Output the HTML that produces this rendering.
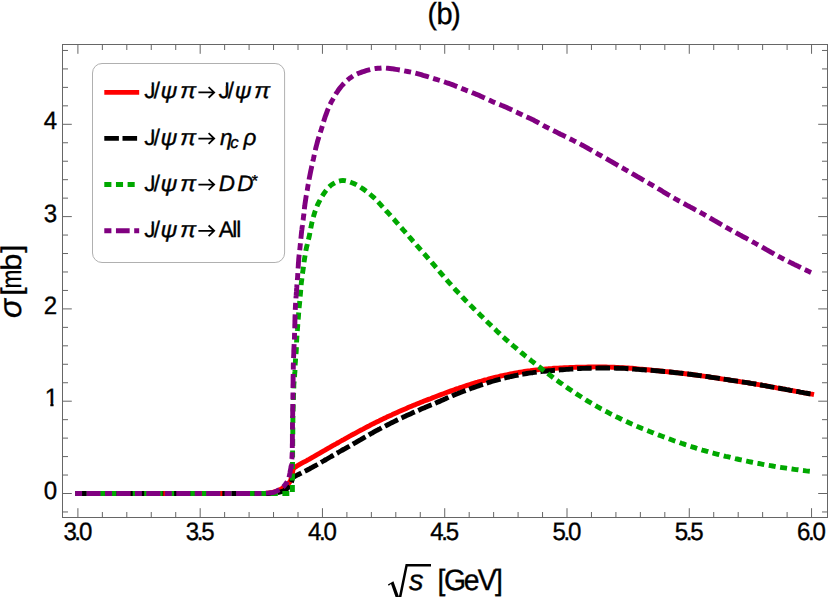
<!DOCTYPE html>
<html><head><meta charset="utf-8"><title>(b)</title>
<style>
html,body{margin:0;padding:0;background:#fff;}
body{width:830px;height:597px;overflow:hidden;font-family:"Liberation Sans",sans-serif;}
svg{display:block;font-family:"Liberation Sans",sans-serif;text-rendering:geometricPrecision;}
svg text{white-space:pre;}
</style></head><body>
<svg width="830" height="597" viewBox="0 0 830 597">
<rect width="830" height="597" fill="#fff"/>
<defs><clipPath id="c0"><polygon points="-1.18,-2.95 5.52,-2.95 5.52,1.23 8.70,1.23 8.70,-2.95 15.28,-2.95 15.28,-19.69 -1.18,-19.69"/></clipPath><clipPath id="c1"><polygon points="-1.09,1.09 12.03,1.09 12.03,-16.41 7.33,-16.41 7.33,-12.03 -1.09,-12.03"/></clipPath><clipPath id="c2"><polygon points="-2.27,5.47 19.34,5.47 19.34,-12.09 -2.27,-12.09"/></clipPath><clipPath id="c3"><polygon points="-1.09,1.09 12.03,1.09 12.03,-16.41 7.33,-16.41 7.33,-12.03 -1.09,-12.03"/></clipPath><clipPath id="c4"><polygon points="-2.27,5.47 19.34,5.47 19.34,-12.09 -2.27,-12.09"/></clipPath><clipPath id="c5"><polygon points="-1.09,1.09 12.03,1.09 12.03,-16.41 7.33,-16.41 7.33,-12.03 -1.09,-12.03"/></clipPath><clipPath id="c6"><polygon points="-2.27,5.47 19.34,5.47 19.34,-12.09 -2.27,-12.09"/></clipPath><clipPath id="c7"><polygon points="-1.09,1.09 12.03,1.09 12.03,-16.41 7.33,-16.41 7.33,-12.03 -1.09,-12.03"/></clipPath><clipPath id="c8"><polygon points="-2.27,5.47 19.34,5.47 19.34,-12.09 -2.27,-12.09"/></clipPath><clipPath id="c9"><polygon points="-1.09,1.09 12.03,1.09 12.03,-16.41 7.33,-16.41 7.33,-12.03 -1.09,-12.03"/></clipPath><clipPath id="c10"><polygon points="-2.27,5.47 19.34,5.47 19.34,-12.09 -2.27,-12.09"/></clipPath></defs>
<rect x="62.5" y="44.5" width="765.0" height="473.0" fill="none" stroke="#666666" stroke-width="1"/>
<path d="M77.90,517.5v-9.3M77.90,44.5v9.3M102.36,517.5v-5.5M102.36,44.5v5.5M126.81,517.5v-5.5M126.81,44.5v5.5M151.26,517.5v-5.5M151.26,44.5v5.5M175.72,517.5v-5.5M175.72,44.5v5.5M200.18,517.5v-9.3M200.18,44.5v9.3M224.63,517.5v-5.5M224.63,44.5v5.5M249.09,517.5v-5.5M249.09,44.5v5.5M273.54,517.5v-5.5M273.54,44.5v5.5M298.00,517.5v-5.5M298.00,44.5v5.5M322.45,517.5v-9.3M322.45,44.5v9.3M346.90,517.5v-5.5M346.90,44.5v5.5M371.36,517.5v-5.5M371.36,44.5v5.5M395.81,517.5v-5.5M395.81,44.5v5.5M420.27,517.5v-5.5M420.27,44.5v5.5M444.73,517.5v-9.3M444.73,44.5v9.3M469.18,517.5v-5.5M469.18,44.5v5.5M493.64,517.5v-5.5M493.64,44.5v5.5M518.09,517.5v-5.5M518.09,44.5v5.5M542.55,517.5v-5.5M542.55,44.5v5.5M567.00,517.5v-9.3M567.00,44.5v9.3M591.45,517.5v-5.5M591.45,44.5v5.5M615.91,517.5v-5.5M615.91,44.5v5.5M640.37,517.5v-5.5M640.37,44.5v5.5M664.82,517.5v-5.5M664.82,44.5v5.5M689.27,517.5v-9.3M689.27,44.5v9.3M713.73,517.5v-5.5M713.73,44.5v5.5M738.19,517.5v-5.5M738.19,44.5v5.5M762.64,517.5v-5.5M762.64,44.5v5.5M787.10,517.5v-5.5M787.10,44.5v5.5M811.55,517.5v-9.3M811.55,44.5v9.3M62.5,511.96h5.5M827.5,511.96h-5.5M62.5,493.50h9.3M827.5,493.50h-9.3M62.5,475.04h5.5M827.5,475.04h-5.5M62.5,456.58h5.5M827.5,456.58h-5.5M62.5,438.12h5.5M827.5,438.12h-5.5M62.5,419.66h5.5M827.5,419.66h-5.5M62.5,401.20h9.3M827.5,401.20h-9.3M62.5,382.74h5.5M827.5,382.74h-5.5M62.5,364.28h5.5M827.5,364.28h-5.5M62.5,345.82h5.5M827.5,345.82h-5.5M62.5,327.36h5.5M827.5,327.36h-5.5M62.5,308.90h9.3M827.5,308.90h-9.3M62.5,290.44h5.5M827.5,290.44h-5.5M62.5,271.98h5.5M827.5,271.98h-5.5M62.5,253.52h5.5M827.5,253.52h-5.5M62.5,235.06h5.5M827.5,235.06h-5.5M62.5,216.60h9.3M827.5,216.60h-9.3M62.5,198.14h5.5M827.5,198.14h-5.5M62.5,179.68h5.5M827.5,179.68h-5.5M62.5,161.22h5.5M827.5,161.22h-5.5M62.5,142.76h5.5M827.5,142.76h-5.5M62.5,124.30h9.3M827.5,124.30h-9.3M62.5,105.84h5.5M827.5,105.84h-5.5M62.5,87.38h5.5M827.5,87.38h-5.5M62.5,68.92h5.5M827.5,68.92h-5.5M62.5,50.46h5.5M827.5,50.46h-5.5" fill="none" stroke="#666666" stroke-width="1"/>
<g stroke-linecap="butt">
<path d="M75.1,493.5 L77.1,493.5 L79.1,493.5 L81.1,493.5 L83.1,493.5 L85.1,493.5 L87.1,493.5 L89.1,493.5 L91.1,493.5 L93.1,493.5 L95.1,493.5 L97.1,493.5 L99.1,493.5 L101.1,493.5 L103.1,493.5 L105.1,493.5 L107.1,493.5 L109.1,493.5 L111.1,493.5 L113.1,493.5 L115.1,493.5 L117.1,493.5 L119.1,493.5 L121.1,493.5 L123.1,493.5 L125.1,493.5 L127.1,493.5 L129.1,493.5 L131.1,493.5 L133.1,493.5 L135.1,493.5 L137.1,493.5 L139.1,493.5 L141.1,493.5 L143.1,493.5 L145.1,493.5 L147.1,493.5 L149.1,493.5 L151.1,493.5 L153.1,493.5 L155.1,493.5 L157.1,493.5 L159.1,493.5 L161.1,493.5 L163.1,493.5 L165.1,493.5 L167.1,493.5 L169.1,493.5 L171.1,493.5 L173.1,493.5 L175.1,493.5 L177.1,493.5 L179.1,493.5 L181.1,493.5 L183.1,493.5 L185.1,493.5 L187.1,493.5 L189.1,493.5 L191.1,493.5 L193.1,493.5 L195.1,493.5 L197.1,493.5 L199.1,493.5 L201.1,493.5 L203.1,493.5 L205.0,493.5 L207.0,493.5 L209.0,493.5 L211.0,493.5 L213.0,493.5 L215.0,493.5 L217.0,493.5 L219.0,493.5 L221.0,493.5 L223.0,493.5 L225.0,493.5 L227.0,493.5 L229.0,493.5 L231.0,493.5 L233.0,493.5 L235.0,493.5 L237.0,493.5 L239.0,493.5 L241.0,493.5 L243.0,493.5 L245.0,493.5 L247.0,493.5 L249.0,493.5 L251.0,493.5 L253.0,493.5 L255.0,493.5 L257.0,493.5 L259.0,493.5 L261.0,493.5 L263.0,493.5 L265.0,493.4 L267.0,493.2 L269.0,493.0 L271.0,492.8 L272.9,492.3 L274.9,491.7 L276.8,491.0 L278.6,490.3 L280.4,489.4 L282.2,488.4 L283.9,487.3 L285.4,486.2 L287.1,484.9 L288.6,483.4 L289.8,481.9 L290.6,480.2 L291.3,478.4 L291.8,476.4 L292.3,474.4 L292.6,472.3 L292.9,470.2 L293.4,468.5 L295.1,467.3 L296.7,466.2 L298.4,465.2 L300.1,464.2 L301.9,463.2 L303.7,462.2 L305.4,461.3 L307.2,460.3 L309.0,459.4 L310.7,458.4 L312.4,457.4 L314.2,456.4 L315.9,455.4 L317.6,454.4 L319.4,453.4 L321.1,452.4 L322.8,451.4 L324.6,450.4 L326.3,449.4 L328.0,448.4 L329.8,447.4 L331.5,446.4 L333.2,445.4 L335.0,444.5 L336.7,443.5 L338.5,442.5 L340.2,441.5 L341.9,440.5 L343.7,439.6 L345.4,438.6 L347.2,437.6 L348.9,436.7 L350.7,435.7 L352.4,434.7 L354.2,433.8 L356.0,432.8 L357.7,431.9 L359.5,430.9 L361.2,430.0 L363.0,429.1 L364.8,428.1 L366.5,427.2 L368.3,426.3 L370.1,425.3 L371.9,424.4 L373.7,423.5 L375.4,422.6 L377.2,421.7 L379.0,420.9 L380.8,420.0 L382.6,419.1 L384.4,418.2 L386.2,417.4 L388.0,416.5 L389.9,415.7 L391.7,414.9 L393.5,414.0 L395.3,413.2 L397.1,412.4 L399.0,411.6 L400.8,410.8 L402.6,410.0 L404.5,409.2 L406.3,408.4 L408.1,407.6 L410.0,406.8 L411.8,406.1 L413.7,405.3 L415.5,404.6 L417.4,403.8 L419.2,403.1 L421.1,402.3 L422.9,401.6 L424.8,400.8 L426.7,400.1 L428.5,399.4 L430.4,398.7 L432.3,397.9 L434.1,397.2 L436.0,396.5 L437.9,395.8 L439.7,395.1 L441.6,394.4 L443.5,393.7 L445.3,393.0 L447.2,392.3 L449.1,391.6 L451.0,390.9 L452.9,390.2 L454.7,389.6 L456.6,388.9 L458.5,388.3 L460.4,387.6 L462.3,387.0 L464.2,386.4 L466.1,385.7 L468.0,385.1 L469.9,384.5 L471.8,383.9 L473.7,383.3 L475.7,382.7 L477.6,382.2 L479.5,381.6 L481.4,381.1 L483.3,380.5 L485.3,380.0 L487.2,379.5 L489.1,378.9 L491.1,378.4 L493.0,377.9 L494.9,377.4 L496.9,377.0 L498.8,376.5 L500.8,376.0 L502.7,375.6 L504.7,375.2 L506.6,374.8 L508.6,374.4 L510.5,374.0 L512.5,373.6 L514.5,373.2 L516.4,372.8 L518.4,372.5 L520.4,372.1 L522.4,371.8 L524.3,371.5 L526.3,371.2 L528.3,370.9 L530.3,370.7 L532.2,370.4 L534.2,370.1 L536.2,369.9 L538.2,369.7 L540.2,369.4 L542.2,369.2 L544.2,369.1 L546.2,368.9 L548.1,368.8 L550.1,368.6 L552.1,368.5 L554.1,368.3 L556.1,368.2 L558.1,368.1 L560.1,368.0 L562.1,367.9 L564.1,367.8 L566.1,367.7 L568.1,367.6 L570.1,367.5 L572.1,367.4 L574.1,367.4 L576.1,367.3 L578.1,367.3 L580.1,367.2 L582.1,367.2 L584.1,367.1 L586.1,367.1 L588.1,367.0 L590.1,367.0 L592.1,367.0 L594.1,366.9 L596.1,366.9 L598.1,366.9 L600.1,366.9 L602.1,366.9 L604.1,367.0 L606.1,367.0 L608.1,367.1 L610.1,367.1 L612.1,367.2 L614.1,367.3 L616.1,367.4 L618.1,367.5 L620.1,367.6 L622.1,367.7 L624.1,367.8 L626.1,367.9 L628.1,368.0 L630.0,368.2 L632.0,368.3 L634.0,368.5 L636.0,368.7 L638.0,368.9 L640.0,369.1 L642.0,369.3 L644.0,369.5 L646.0,369.7 L648.0,369.8 L650.0,370.0 L651.9,370.2 L653.9,370.4 L655.9,370.6 L657.9,370.8 L659.9,371.0 L661.9,371.2 L663.9,371.4 L665.9,371.6 L667.9,371.8 L669.9,372.0 L671.8,372.2 L673.8,372.4 L675.8,372.6 L677.8,372.8 L679.8,373.1 L681.8,373.3 L683.8,373.5 L685.7,373.8 L687.7,374.0 L689.7,374.3 L691.7,374.5 L693.7,374.8 L695.7,375.0 L697.6,375.3 L699.6,375.6 L701.6,375.8 L703.6,376.1 L705.6,376.4 L707.5,376.7 L709.5,377.0 L711.5,377.3 L713.5,377.6 L715.5,377.9 L717.4,378.2 L719.4,378.5 L721.4,378.8 L723.4,379.1 L725.3,379.4 L727.3,379.7 L729.3,380.0 L731.3,380.3 L733.2,380.6 L735.2,380.9 L737.2,381.2 L739.2,381.5 L741.2,381.8 L743.1,382.1 L745.1,382.4 L747.1,382.7 L749.1,383.0 L751.0,383.3 L753.0,383.7 L755.0,384.0 L756.9,384.3 L758.9,384.7 L760.9,385.0 L762.8,385.4 L764.8,385.7 L766.8,386.0 L768.8,386.4 L770.7,386.7 L772.7,387.1 L774.7,387.4 L776.6,387.8 L778.6,388.1 L780.6,388.5 L782.5,388.8 L784.5,389.2 L786.5,389.6 L788.4,389.9 L790.4,390.3 L792.4,390.6 L794.3,391.0 L796.3,391.3 L798.3,391.7 L800.2,392.1 L802.2,392.4 L804.2,392.8 L806.1,393.1 L808.1,393.5 L810.1,393.9 L812.0,394.2 L814.0,394.6" fill="none" stroke="#ff0000" stroke-width="4.9" stroke-linejoin="round"/>
<path d="M75.1,493.5 L77.1,493.5 L79.1,493.5 L81.1,493.5 L83.1,493.5 L85.1,493.5 L87.1,493.5 L89.1,493.5 L91.1,493.5 L93.1,493.5 L95.1,493.5 L97.1,493.5 L99.0,493.5 L101.0,493.5 L103.0,493.5 L105.0,493.5 L107.0,493.5 L109.0,493.5 L111.0,493.5 L113.0,493.5 L115.0,493.5 L117.0,493.5 L119.0,493.5 L121.0,493.5 L123.0,493.5 L125.0,493.5 L127.0,493.5 L129.0,493.5 L131.0,493.5 L133.0,493.5 L135.0,493.5 L137.0,493.5 L139.0,493.5 L141.0,493.5 L143.0,493.5 L144.9,493.5 L146.9,493.5 L148.9,493.5 L150.9,493.5 L152.9,493.5 L154.9,493.5 L156.9,493.5 L158.9,493.5 L160.9,493.5 L162.9,493.5 L164.9,493.5 L166.9,493.5 L168.9,493.5 L170.9,493.5 L172.9,493.5 L174.9,493.5 L176.9,493.5 L178.9,493.5 L180.9,493.5 L182.9,493.5 L184.9,493.5 L186.9,493.5 L188.9,493.5 L190.8,493.5 L192.8,493.5 L194.8,493.5 L196.8,493.5 L198.8,493.5 L200.8,493.5 L202.8,493.5 L204.8,493.5 L206.8,493.5 L208.8,493.5 L210.8,493.5 L212.8,493.5 L214.8,493.5 L216.8,493.5 L218.8,493.5 L220.8,493.5 L222.8,493.5 L224.8,493.5 L226.8,493.5 L228.8,493.5 L230.8,493.5 L232.8,493.5 L234.8,493.5 L236.8,493.5 L238.7,493.5 L240.7,493.5 L242.7,493.5 L244.7,493.5 L246.7,493.5 L248.7,493.5 L250.7,493.5 L252.7,493.5 L254.7,493.5 L256.7,493.5 L258.7,493.5 L260.7,493.5 L262.7,493.5 L264.7,493.5 L266.7,493.5 L268.7,493.5 L270.7,493.4 L272.7,493.2 L274.7,493.0 L276.6,492.7 L278.6,492.4 L280.6,491.9 L282.5,491.4 L284.3,490.6 L286.0,489.5 L287.6,488.2 L288.9,486.8 L290.0,485.2 L290.9,483.3 L291.7,481.4 L292.1,479.4 L292.7,477.7 L294.5,476.6 L296.2,475.7 L298.0,474.7 L299.8,473.8 L301.5,472.9 L303.3,472.0 L305.1,471.1 L306.9,470.2 L308.7,469.3 L310.4,468.3 L312.2,467.4 L313.9,466.4 L315.7,465.5 L317.4,464.5 L319.1,463.5 L320.9,462.5 L322.6,461.5 L324.3,460.5 L326.1,459.5 L327.8,458.5 L329.5,457.5 L331.2,456.5 L333.0,455.5 L334.7,454.5 L336.4,453.5 L338.2,452.5 L339.9,451.5 L341.6,450.5 L343.4,449.5 L345.1,448.6 L346.8,447.6 L348.6,446.6 L350.3,445.6 L352.0,444.6 L353.7,443.6 L355.5,442.6 L357.2,441.6 L358.9,440.6 L360.7,439.6 L362.4,438.6 L364.1,437.6 L365.9,436.6 L367.6,435.6 L369.3,434.6 L371.0,433.6 L372.8,432.7 L374.5,431.7 L376.3,430.7 L378.0,429.8 L379.8,428.9 L381.6,427.9 L383.3,427.0 L385.1,426.1 L386.9,425.2 L388.7,424.3 L390.4,423.4 L392.2,422.5 L394.0,421.6 L395.8,420.7 L397.6,419.8 L399.4,419.0 L401.2,418.1 L403.0,417.3 L404.8,416.4 L406.6,415.6 L408.5,414.8 L410.3,414.0 L412.1,413.1 L413.9,412.3 L415.7,411.5 L417.6,410.7 L419.4,409.9 L421.2,409.1 L423.1,408.3 L424.9,407.6 L426.7,406.8 L428.6,406.0 L430.4,405.2 L432.3,404.5 L434.1,403.7 L435.9,402.9 L437.8,402.1 L439.6,401.4 L441.4,400.6 L443.3,399.8 L445.1,398.9 L446.9,398.1 L448.7,397.3 L450.6,396.5 L452.4,395.7 L454.2,394.9 L456.1,394.2 L457.9,393.5 L459.8,392.7 L461.7,392.0 L463.5,391.3 L465.4,390.6 L467.3,389.9 L469.1,389.2 L471.0,388.5 L472.9,387.8 L474.8,387.2 L476.7,386.5 L478.5,385.9 L480.4,385.2 L482.3,384.6 L484.2,384.0 L486.1,383.4 L488.0,382.7 L489.9,382.1 L491.8,381.5 L493.7,381.0 L495.7,380.4 L497.6,379.8 L499.5,379.3 L501.4,378.8 L503.4,378.3 L505.3,377.9 L507.2,377.4 L509.2,377.0 L511.1,376.5 L513.1,376.1 L515.0,375.7 L517.0,375.3 L519.0,374.9 L520.9,374.5 L522.9,374.2 L524.9,373.8 L526.8,373.5 L528.8,373.2 L530.8,372.9 L532.7,372.7 L534.7,372.4 L536.7,372.1 L538.7,371.9 L540.7,371.7 L542.7,371.4 L544.6,371.2 L546.6,371.0 L548.6,370.8 L550.6,370.7 L552.6,370.5 L554.6,370.3 L556.6,370.2 L558.6,370.0 L560.5,369.8 L562.5,369.7 L564.5,369.6 L566.5,369.4 L568.5,369.3 L570.5,369.1 L572.5,369.0 L574.5,368.9 L576.5,368.7 L578.5,368.6 L580.5,368.5 L582.5,368.4 L584.4,368.4 L586.4,368.3 L588.4,368.3 L590.4,368.2 L592.4,368.1 L594.4,368.1 L596.4,368.1 L598.4,368.0 L600.4,368.0 L602.4,368.0 L604.4,368.0 L606.4,368.0 L608.4,368.0 L610.4,368.1 L612.4,368.1 L614.4,368.1 L616.4,368.2 L618.4,368.2 L620.4,368.3 L622.4,368.3 L624.4,368.4 L626.3,368.5 L628.3,368.7 L630.3,368.8 L632.3,369.0 L634.3,369.1 L636.3,369.3 L638.3,369.4 L640.3,369.6 L642.3,369.7 L644.3,369.8 L646.3,370.0 L648.2,370.1 L650.2,370.3 L652.2,370.4 L654.2,370.6 L656.2,370.7 L658.2,370.9 L660.2,371.1 L662.2,371.3 L664.2,371.5 L666.1,371.6 L668.1,371.8 L670.1,372.0 L672.1,372.2 L674.1,372.5 L676.1,372.7 L678.1,372.9 L680.0,373.1 L682.0,373.3 L684.0,373.6 L686.0,373.8 L688.0,374.0 L689.9,374.3 L691.9,374.5 L693.9,374.8 L695.9,375.1 L697.9,375.3 L699.8,375.6 L701.8,375.9 L703.8,376.1 L705.8,376.4 L707.7,376.7 L709.7,377.0 L711.7,377.3 L713.7,377.6 L715.6,377.9 L717.6,378.2 L719.6,378.5 L721.5,378.8 L723.5,379.1 L725.5,379.4 L727.5,379.7 L729.4,380.0 L731.4,380.3 L733.4,380.6 L735.4,380.9 L737.3,381.2 L739.3,381.5 L741.3,381.8 L743.3,382.1 L745.2,382.4 L747.2,382.7 L749.2,383.0 L751.1,383.4 L753.1,383.7 L755.1,384.0 L757.0,384.4 L759.0,384.7 L761.0,385.0 L762.9,385.4 L764.9,385.7 L766.9,386.1 L768.8,386.4 L770.8,386.8 L772.8,387.1 L774.7,387.4 L776.7,387.8 L778.7,388.1 L780.6,388.5 L782.6,388.9 L784.6,389.2 L786.5,389.6 L788.5,389.9 L790.4,390.3 L792.4,390.6 L794.4,391.0 L796.3,391.3 L798.3,391.7 L800.3,392.1 L802.2,392.4 L804.2,392.8 L806.2,393.1 L808.1,393.5 L810.1,393.9 L812.0,394.2 L814.0,394.6" fill="none" stroke="#000000" stroke-width="4.9" stroke-dasharray="14.581 3.821" stroke-linejoin="round"/>
<path d="M75.1,493.5 L292.4,493.5 L292.4,491.5 L292.4,489.5 L292.4,487.5 L292.4,485.5 L292.4,483.5 L292.4,481.5 L292.5,479.5 L292.5,477.5 L292.5,475.5 L292.5,473.5 L292.5,471.5 L292.5,469.5 L292.5,467.5 L292.5,465.5 L292.5,463.5 L292.5,461.5 L292.6,459.5 L292.6,457.6 L292.6,455.6 L292.6,453.6 L292.6,451.6 L292.6,449.6 L292.6,447.6 L292.7,445.6 L292.7,443.6 L292.7,441.6 L292.7,439.6 L292.7,437.6 L292.7,435.6 L292.8,433.6 L292.8,431.6 L292.8,429.6 L292.8,427.6 L292.8,425.6 L292.9,423.6 L292.9,421.6 L292.9,419.6 L292.9,417.6 L293.0,415.6 L293.0,413.6 L293.1,411.6 L293.1,409.6 L293.2,407.6 L293.2,405.6 L293.3,403.6 L293.4,401.6 L293.4,399.6 L293.5,397.6 L293.5,395.6 L293.6,393.6 L293.6,391.7 L293.7,389.7 L293.8,387.7 L293.8,385.7 L293.9,383.7 L294.1,381.7 L294.2,379.7 L294.4,377.7 L294.6,375.7 L294.7,373.7 L294.9,371.7 L295.0,369.7 L295.1,367.7 L295.1,365.7 L295.2,363.7 L295.4,361.8 L295.5,359.8 L295.7,357.8 L295.8,355.8 L296.0,353.8 L296.2,351.8 L296.3,349.8 L296.4,347.8 L296.5,345.8 L296.6,343.8 L296.6,341.8 L296.7,339.8 L296.8,337.8 L297.0,335.8 L297.1,333.8 L297.2,331.9 L297.4,329.9 L297.5,327.9 L297.7,325.9 L297.8,323.9 L298.0,321.9 L298.1,319.9 L298.3,317.9 L298.5,315.9 L298.6,313.9 L298.8,311.9 L299.0,310.0 L299.1,308.0 L299.3,306.0 L299.5,304.0 L299.7,302.0 L299.9,300.0 L300.0,298.0 L300.2,296.0 L300.4,294.0 L300.6,292.1 L300.7,290.1 L300.9,288.1 L301.1,286.1 L301.2,284.1 L301.4,282.1 L301.7,280.1 L301.9,278.1 L302.2,276.2 L302.4,274.2 L302.7,272.2 L303.0,270.2 L303.3,268.2 L303.5,266.3 L303.8,264.3 L304.0,262.3 L304.3,260.3 L304.6,258.4 L304.9,256.4 L305.3,254.4 L305.6,252.4 L305.9,250.5 L306.3,248.5 L306.7,246.6 L307.2,244.6 L307.6,242.7 L308.1,240.7 L308.6,238.8 L309.1,236.9 L309.5,234.9 L309.9,232.9 L310.2,231.0 L310.6,229.0 L311.0,227.0 L311.4,225.1 L311.8,223.1 L312.3,221.2 L312.8,219.3 L313.3,217.3 L313.8,215.4 L314.4,213.5 L315.0,211.6 L315.7,209.7 L316.4,207.8 L317.1,206.0 L317.9,204.1 L318.8,202.3 L319.7,200.6 L320.6,198.8 L321.6,197.0 L322.7,195.3 L323.8,193.7 L324.9,192.1 L326.1,190.4 L327.4,188.8 L328.8,187.2 L330.2,185.9 L331.7,184.7 L333.4,183.7 L335.2,182.7 L337.0,181.8 L339.0,181.1 L341.0,180.6 L342.9,180.4 L344.8,180.6 L346.8,181.0 L348.7,181.6 L350.6,182.3 L352.5,183.0 L354.4,183.8 L356.1,184.6 L357.9,185.6 L359.6,186.7 L361.3,187.8 L363.0,188.9 L364.6,190.0 L366.2,191.2 L367.8,192.4 L369.4,193.7 L370.9,195.0 L372.4,196.3 L373.9,197.6 L375.3,199.0 L376.7,200.4 L378.1,201.9 L379.4,203.3 L380.8,204.8 L382.1,206.3 L383.5,207.8 L384.8,209.3 L386.1,210.8 L387.5,212.2 L388.8,213.7 L390.2,215.2 L391.5,216.7 L392.9,218.2 L394.2,219.6 L395.5,221.1 L396.8,222.6 L398.2,224.1 L399.5,225.6 L400.8,227.1 L402.1,228.6 L403.4,230.1 L404.8,231.6 L406.1,233.1 L407.4,234.6 L408.7,236.1 L410.0,237.7 L411.3,239.2 L412.6,240.7 L413.9,242.2 L415.2,243.7 L416.5,245.2 L417.9,246.7 L419.2,248.2 L420.5,249.7 L421.8,251.2 L423.1,252.7 L424.5,254.2 L425.8,255.7 L427.1,257.2 L428.4,258.7 L429.7,260.2 L431.1,261.7 L432.4,263.2 L433.7,264.7 L435.0,266.2 L436.3,267.7 L437.6,269.2 L438.9,270.8 L440.2,272.3 L441.5,273.8 L442.8,275.3 L444.1,276.8 L445.4,278.4 L446.7,279.9 L448.0,281.4 L449.3,282.8 L450.7,284.3 L452.0,285.8 L453.3,287.3 L454.7,288.8 L456.0,290.3 L457.4,291.7 L458.7,293.2 L460.1,294.7 L461.5,296.1 L462.8,297.6 L464.2,299.0 L465.6,300.5 L467.0,301.9 L468.4,303.3 L469.8,304.7 L471.2,306.1 L472.7,307.5 L474.1,308.9 L475.5,310.3 L476.9,311.7 L478.4,313.1 L479.8,314.5 L481.2,315.9 L482.7,317.3 L484.1,318.7 L485.5,320.1 L486.9,321.5 L488.4,322.9 L489.8,324.3 L491.2,325.6 L492.7,327.0 L494.1,328.4 L495.6,329.8 L497.0,331.2 L498.5,332.6 L499.9,333.9 L501.4,335.3 L502.8,336.7 L504.3,338.0 L505.8,339.4 L507.3,340.7 L508.8,342.0 L510.3,343.3 L511.8,344.6 L513.3,345.9 L514.9,347.1 L516.4,348.4 L517.9,349.7 L519.5,351.0 L521.0,352.3 L522.5,353.5 L524.1,354.8 L525.6,356.1 L527.2,357.3 L528.7,358.6 L530.3,359.8 L531.8,361.1 L533.4,362.3 L535.0,363.6 L536.5,364.8 L538.1,366.1 L539.7,367.3 L541.2,368.5 L542.8,369.8 L544.4,371.0 L546.0,372.2 L547.6,373.4 L549.2,374.6 L550.8,375.8 L552.4,377.0 L554.0,378.2 L555.6,379.4 L557.2,380.5 L558.8,381.7 L560.5,382.9 L562.1,384.0 L563.7,385.2 L565.4,386.3 L567.0,387.5 L568.6,388.6 L570.3,389.7 L571.9,390.8 L573.6,391.9 L575.3,393.0 L576.9,394.1 L578.6,395.2 L580.3,396.3 L582.0,397.4 L583.7,398.5 L585.3,399.5 L587.0,400.6 L588.7,401.7 L590.5,402.7 L592.2,403.7 L593.9,404.7 L595.6,405.7 L597.3,406.7 L599.1,407.7 L600.8,408.7 L602.6,409.6 L604.3,410.6 L606.1,411.5 L607.9,412.4 L609.6,413.4 L611.4,414.3 L613.2,415.2 L615.0,416.1 L616.8,417.0 L618.6,417.8 L620.4,418.7 L622.2,419.6 L624.0,420.4 L625.8,421.3 L627.6,422.1 L629.4,422.9 L631.2,423.8 L633.1,424.6 L634.9,425.4 L636.7,426.2 L638.6,426.9 L640.4,427.7 L642.2,428.5 L644.1,429.2 L646.0,430.0 L647.8,430.7 L649.7,431.5 L651.5,432.2 L653.4,432.9 L655.2,433.7 L657.1,434.4 L659.0,435.1 L660.8,435.8 L662.7,436.5 L664.6,437.2 L666.4,437.9 L668.3,438.6 L670.2,439.3 L672.1,440.0 L674.0,440.7 L675.8,441.3 L677.7,442.0 L679.6,442.6 L681.5,443.3 L683.4,443.9 L685.3,444.6 L687.2,445.2 L689.1,445.9 L691.0,446.5 L692.9,447.1 L694.8,447.7 L696.7,448.3 L698.6,448.9 L700.5,449.5 L702.4,450.1 L704.3,450.6 L706.2,451.2 L708.1,451.7 L710.1,452.3 L712.0,452.8 L713.9,453.3 L715.9,453.8 L717.8,454.3 L719.7,454.8 L721.7,455.3 L723.6,455.8 L725.5,456.3 L727.5,456.7 L729.4,457.2 L731.4,457.7 L733.3,458.1 L735.3,458.6 L737.2,459.0 L739.2,459.5 L741.1,459.9 L743.1,460.3 L745.0,460.8 L747.0,461.2 L748.9,461.6 L750.9,462.0 L752.8,462.4 L754.8,462.8 L756.7,463.2 L758.7,463.5 L760.7,463.9 L762.6,464.3 L764.6,464.7 L766.6,465.0 L768.5,465.4 L770.5,465.7 L772.5,466.0 L774.4,466.3 L776.4,466.7 L778.4,467.0 L780.4,467.3 L782.3,467.6 L784.3,467.9 L786.3,468.2 L788.3,468.5 L790.2,468.7 L792.2,469.0 L794.2,469.3 L796.2,469.6 L798.1,469.8 L800.1,470.1 L802.1,470.4 L804.1,470.6 L806.1,470.9 L808.0,471.1 L810.0,471.3 L812.0,471.6 L814.0,471.8" fill="none" stroke="#00a800" stroke-width="4.9" stroke-dasharray="6.95 4.565" stroke-linejoin="miter"/>
<path d="M75.1,493.5 L77.1,493.5 L79.1,493.5 L81.1,493.5 L83.1,493.5 L85.1,493.5 L87.1,493.5 L89.1,493.5 L91.1,493.5 L93.1,493.5 L95.1,493.5 L97.1,493.5 L99.1,493.5 L101.1,493.5 L103.1,493.5 L105.1,493.5 L107.1,493.5 L109.0,493.5 L111.0,493.5 L113.0,493.5 L115.0,493.5 L117.0,493.5 L119.0,493.5 L121.0,493.5 L123.0,493.5 L125.0,493.5 L127.0,493.5 L129.0,493.5 L131.0,493.5 L133.0,493.5 L135.0,493.5 L137.0,493.5 L139.0,493.5 L141.0,493.5 L143.0,493.5 L145.0,493.5 L147.0,493.5 L149.0,493.5 L151.0,493.5 L153.0,493.5 L155.0,493.5 L157.0,493.5 L159.0,493.5 L161.0,493.5 L163.0,493.5 L165.0,493.5 L167.0,493.5 L169.0,493.5 L171.0,493.5 L173.0,493.5 L175.0,493.5 L176.9,493.5 L178.9,493.5 L180.9,493.5 L182.9,493.5 L184.9,493.5 L186.9,493.5 L188.9,493.5 L190.9,493.5 L192.9,493.5 L194.9,493.5 L196.9,493.5 L198.9,493.5 L200.9,493.5 L202.9,493.5 L204.9,493.5 L206.9,493.5 L208.9,493.5 L210.9,493.5 L212.9,493.5 L214.9,493.5 L216.9,493.5 L218.9,493.5 L220.9,493.5 L222.9,493.5 L224.9,493.5 L226.9,493.5 L228.9,493.5 L230.9,493.5 L232.9,493.5 L234.9,493.5 L236.9,493.5 L238.9,493.5 L240.9,493.5 L242.9,493.5 L244.8,493.5 L246.8,493.5 L248.8,493.5 L250.8,493.5 L252.8,493.5 L254.8,493.5 L256.8,493.5 L258.8,493.5 L260.8,493.4 L262.8,493.3 L264.8,493.2 L266.8,493.1 L268.8,493.0 L270.8,492.8 L272.8,492.6 L274.6,492.0 L276.5,491.1 L278.3,490.2 L280.1,489.3 L281.7,488.2 L283.3,486.9 L284.6,485.4 L285.8,483.8 L286.9,482.1 L287.9,480.4 L288.6,478.5 L289.2,476.6 L289.6,474.7 L290.0,472.7 L290.3,470.7 L290.7,468.8 L291.1,466.8 L291.4,464.8 L291.6,462.8 L291.7,460.8 L291.9,458.9 L292.0,456.9 L292.1,454.9 L292.2,452.9 L292.2,450.9 L292.3,448.9 L292.3,446.9 L292.3,444.9 L292.4,442.9 L292.4,440.9 L292.4,438.9 L292.4,436.9 L292.4,434.9 L292.4,432.9 L292.5,430.9 L292.5,428.9 L292.5,426.9 L292.5,424.9 L292.5,422.9 L292.6,420.9 L292.6,418.9 L292.6,416.9 L292.7,414.9 L292.7,412.9 L292.7,410.9 L292.7,408.9 L292.8,406.9 L292.8,404.9 L292.8,402.9 L292.8,400.9 L292.9,398.9 L292.9,397.0 L292.9,395.0 L293.0,393.0 L293.0,391.0 L293.0,389.0 L293.0,387.0 L293.0,385.0 L293.1,383.0 L293.1,381.0 L293.1,379.0 L293.1,377.0 L293.2,375.0 L293.2,373.0 L293.2,371.0 L293.3,369.0 L293.3,367.0 L293.3,365.0 L293.4,363.0 L293.5,361.0 L293.5,359.0 L293.6,357.0 L293.7,355.0 L293.8,353.0 L293.8,351.0 L293.9,349.0 L294.0,347.0 L294.1,345.0 L294.2,343.1 L294.3,341.1 L294.4,339.1 L294.5,337.1 L294.5,335.1 L294.6,333.1 L294.7,331.1 L294.7,329.1 L294.8,327.1 L294.8,325.1 L294.9,323.1 L294.9,321.1 L295.0,319.1 L295.0,317.1 L295.1,315.1 L295.2,313.1 L295.2,311.1 L295.3,309.1 L295.4,307.1 L295.5,305.1 L295.6,303.1 L295.7,301.1 L295.9,299.2 L296.0,297.2 L296.2,295.2 L296.3,293.2 L296.5,291.2 L296.6,289.2 L296.8,287.2 L296.9,285.2 L297.1,283.2 L297.3,281.2 L297.4,279.2 L297.6,277.3 L297.7,275.3 L297.8,273.3 L297.9,271.3 L298.0,269.3 L298.2,267.3 L298.3,265.3 L298.4,263.3 L298.6,261.3 L298.7,259.3 L298.9,257.3 L299.1,255.3 L299.4,253.4 L299.6,251.4 L299.8,249.4 L300.0,247.4 L300.2,245.4 L300.4,243.4 L300.6,241.4 L300.8,239.5 L301.0,237.5 L301.2,235.5 L301.4,233.5 L301.6,231.5 L301.9,229.5 L302.1,227.5 L302.4,225.6 L302.6,223.6 L302.9,221.6 L303.2,219.6 L303.4,217.6 L303.7,215.7 L303.9,213.7 L304.1,211.7 L304.3,209.7 L304.5,207.7 L304.8,205.7 L305.0,203.8 L305.3,201.8 L305.6,199.8 L305.9,197.8 L306.2,195.9 L306.6,193.9 L306.9,191.9 L307.3,190.0 L307.6,188.0 L307.9,186.0 L308.3,184.1 L308.6,182.1 L309.0,180.1 L309.3,178.2 L309.7,176.2 L310.1,174.2 L310.5,172.3 L310.9,170.3 L311.3,168.4 L311.7,166.4 L312.2,164.5 L312.6,162.5 L313.0,160.6 L313.5,158.6 L313.9,156.7 L314.3,154.7 L314.8,152.8 L315.2,150.8 L315.6,148.9 L316.1,146.9 L316.6,145.0 L317.1,143.1 L317.6,141.1 L318.2,139.2 L318.8,137.3 L319.4,135.4 L320.0,133.5 L320.6,131.6 L321.2,129.7 L321.8,127.8 L322.4,125.9 L322.9,124.0 L323.5,122.0 L324.1,120.1 L324.7,118.2 L325.3,116.3 L326.0,114.5 L326.7,112.6 L327.4,110.7 L328.1,108.9 L328.9,107.0 L329.7,105.2 L330.6,103.4 L331.5,101.6 L332.5,99.9 L333.5,98.1 L334.5,96.4 L335.5,94.6 L336.5,92.9 L337.6,91.3 L338.7,89.6 L339.9,88.1 L341.2,86.5 L342.5,85.0 L343.9,83.5 L345.3,82.0 L346.8,80.6 L348.3,79.3 L349.8,78.1 L351.5,77.1 L353.1,76.0 L354.9,75.1 L356.7,74.2 L358.6,73.3 L360.5,72.6 L362.3,71.9 L364.2,71.3 L366.1,70.7 L368.0,70.2 L370.0,69.7 L372.0,69.2 L373.9,68.8 L375.9,68.5 L377.9,68.3 L379.9,68.2 L381.9,68.0 L383.9,68.0 L385.9,68.1 L387.9,68.3 L389.8,68.5 L391.8,68.7 L393.8,69.0 L395.8,69.3 L397.8,69.6 L399.7,70.0 L401.7,70.3 L403.7,70.7 L405.6,71.1 L407.6,71.5 L409.5,71.9 L411.5,72.3 L413.4,72.8 L415.4,73.2 L417.3,73.7 L419.2,74.2 L421.2,74.7 L423.1,75.3 L425.0,75.8 L426.9,76.4 L428.8,77.0 L430.7,77.6 L432.6,78.2 L434.5,78.8 L436.4,79.4 L438.3,80.0 L440.3,80.6 L442.2,81.2 L444.1,81.8 L446.0,82.5 L447.8,83.1 L449.7,83.7 L451.6,84.4 L453.5,85.1 L455.3,85.9 L457.2,86.6 L459.0,87.4 L460.9,88.1 L462.7,88.9 L464.6,89.6 L466.4,90.4 L468.3,91.1 L470.2,91.8 L472.0,92.6 L473.9,93.3 L475.7,94.1 L477.6,94.8 L479.4,95.6 L481.2,96.4 L483.0,97.3 L484.8,98.1 L486.6,99.0 L488.5,99.8 L490.3,100.6 L492.1,101.4 L493.9,102.2 L495.8,103.0 L497.6,103.8 L499.5,104.5 L501.3,105.3 L503.2,106.0 L505.0,106.8 L506.8,107.6 L508.7,108.4 L510.5,109.3 L512.3,110.1 L514.1,111.0 L515.9,111.9 L517.7,112.7 L519.5,113.6 L521.3,114.4 L523.1,115.3 L524.9,116.1 L526.7,116.9 L528.6,117.7 L530.4,118.6 L532.2,119.4 L534.0,120.3 L535.7,121.3 L537.5,122.2 L539.2,123.2 L541.0,124.1 L542.7,125.1 L544.5,126.1 L546.2,127.0 L548.0,127.9 L549.8,128.8 L551.6,129.7 L553.4,130.6 L555.2,131.5 L557.0,132.4 L558.7,133.3 L560.5,134.2 L562.3,135.0 L564.1,135.9 L565.9,136.8 L567.7,137.7 L569.5,138.6 L571.3,139.5 L573.1,140.4 L574.8,141.3 L576.6,142.2 L578.4,143.1 L580.2,144.0 L581.9,145.0 L583.7,145.9 L585.4,146.8 L587.2,147.8 L588.9,148.8 L590.7,149.8 L592.4,150.8 L594.1,151.8 L595.9,152.8 L597.6,153.8 L599.3,154.8 L601.1,155.7 L602.8,156.7 L604.5,157.7 L606.3,158.7 L608.0,159.7 L609.7,160.7 L611.5,161.7 L613.2,162.7 L614.9,163.7 L616.7,164.7 L618.4,165.7 L620.1,166.7 L621.9,167.7 L623.6,168.6 L625.3,169.6 L627.1,170.6 L628.8,171.6 L630.5,172.6 L632.2,173.6 L634.0,174.6 L635.7,175.6 L637.4,176.6 L639.2,177.6 L640.9,178.6 L642.6,179.6 L644.4,180.6 L646.1,181.6 L647.8,182.6 L649.5,183.6 L651.3,184.6 L653.0,185.6 L654.7,186.6 L656.4,187.7 L658.1,188.7 L659.9,189.7 L661.6,190.7 L663.3,191.8 L665.0,192.8 L666.7,193.8 L668.4,194.8 L670.2,195.8 L671.9,196.8 L673.6,197.8 L675.3,198.8 L677.1,199.8 L678.8,200.8 L680.6,201.7 L682.3,202.7 L684.1,203.6 L685.8,204.6 L687.6,205.6 L689.4,206.5 L691.1,207.5 L692.9,208.4 L694.6,209.4 L696.4,210.3 L698.1,211.3 L699.9,212.2 L701.6,213.2 L703.4,214.2 L705.1,215.2 L706.8,216.2 L708.6,217.2 L710.3,218.2 L712.0,219.2 L713.7,220.2 L715.5,221.2 L717.2,222.2 L718.9,223.2 L720.6,224.2 L722.4,225.2 L724.1,226.2 L725.8,227.2 L727.6,228.1 L729.3,229.1 L731.1,230.1 L732.8,231.1 L734.6,232.0 L736.3,233.0 L738.1,233.9 L739.8,234.9 L741.6,235.8 L743.3,236.8 L745.1,237.7 L746.9,238.7 L748.6,239.6 L750.4,240.6 L752.1,241.6 L753.9,242.5 L755.6,243.5 L757.3,244.5 L759.1,245.5 L760.8,246.4 L762.6,247.4 L764.3,248.4 L766.0,249.4 L767.8,250.4 L769.5,251.4 L771.2,252.4 L773.0,253.3 L774.7,254.3 L776.5,255.3 L778.2,256.2 L780.0,257.1 L781.8,258.1 L783.5,259.0 L785.3,259.9 L787.1,260.8 L788.9,261.7 L790.7,262.6 L792.5,263.5 L794.2,264.4 L796.0,265.3 L797.8,266.1 L799.6,267.0 L801.4,267.9 L803.2,268.8 L805.0,269.6 L806.8,270.5 L808.6,271.4 L810.4,272.3 L812.2,273.1 L814.0,274.0" fill="none" stroke="#800080" stroke-width="4.9" stroke-dasharray="6.956 4.472 14.011 4.472" stroke-linejoin="round"/>
</g>
<text transform="translate(63.48,539.90) scale(0.955,1)" font-size="25.2" stroke="#000" stroke-width="0.35" fill="#000">3</text>
<text transform="translate(74.36,539.90) scale(0.955,1)" font-size="25.2" stroke="#000" stroke-width="0.35" fill="#000">.</text>
<text transform="translate(78.91,539.90) scale(0.955,1)" font-size="25.2" stroke="#000" stroke-width="0.35" fill="#000">0</text>
<text transform="translate(185.75,539.90) scale(0.955,1)" font-size="25.2" stroke="#000" stroke-width="0.35" fill="#000">3</text>
<text transform="translate(196.63,539.90) scale(0.955,1)" font-size="25.2" stroke="#000" stroke-width="0.35" fill="#000">.</text>
<text transform="translate(201.21,539.90) scale(0.955,1)" font-size="25.2" stroke="#000" stroke-width="0.35" fill="#000">5</text>
<text transform="translate(308.03,539.90) scale(0.955,1)" font-size="25.2" stroke="#000" stroke-width="0.35" fill="#000">4</text>
<text transform="translate(318.91,539.90) scale(0.955,1)" font-size="25.2" stroke="#000" stroke-width="0.35" fill="#000">.</text>
<text transform="translate(323.46,539.90) scale(0.955,1)" font-size="25.2" stroke="#000" stroke-width="0.35" fill="#000">0</text>
<text transform="translate(430.31,539.90) scale(0.955,1)" font-size="25.2" stroke="#000" stroke-width="0.35" fill="#000">4</text>
<text transform="translate(441.18,539.90) scale(0.955,1)" font-size="25.2" stroke="#000" stroke-width="0.35" fill="#000">.</text>
<text transform="translate(445.76,539.90) scale(0.955,1)" font-size="25.2" stroke="#000" stroke-width="0.35" fill="#000">5</text>
<text transform="translate(552.53,539.90) scale(0.955,1)" font-size="25.2" stroke="#000" stroke-width="0.35" fill="#000">5</text>
<text transform="translate(563.46,539.90) scale(0.955,1)" font-size="25.2" stroke="#000" stroke-width="0.35" fill="#000">.</text>
<text transform="translate(568.01,539.90) scale(0.955,1)" font-size="25.2" stroke="#000" stroke-width="0.35" fill="#000">0</text>
<text transform="translate(674.81,539.90) scale(0.955,1)" font-size="25.2" stroke="#000" stroke-width="0.35" fill="#000">5</text>
<text transform="translate(685.73,539.90) scale(0.955,1)" font-size="25.2" stroke="#000" stroke-width="0.35" fill="#000">.</text>
<text transform="translate(690.31,539.90) scale(0.955,1)" font-size="25.2" stroke="#000" stroke-width="0.35" fill="#000">5</text>
<text transform="translate(796.98,539.90) scale(0.955,1)" font-size="25.2" stroke="#000" stroke-width="0.35" fill="#000">6</text>
<text transform="translate(808.01,539.90) scale(0.955,1)" font-size="25.2" stroke="#000" stroke-width="0.35" fill="#000">.</text>
<text transform="translate(812.56,539.90) scale(0.955,1)" font-size="25.2" stroke="#000" stroke-width="0.35" fill="#000">0</text>
<text transform="translate(43.66,498.60) scale(0.955,1)" font-size="25.2" stroke="#000" stroke-width="0.35" fill="#000">0</text>
<g transform="translate(44.83,406.30)" clip-path="url(#c0)"><text transform="scale(0.955,1)" font-size="25.2" stroke="#000" stroke-width="0.35" fill="#000">1</text></g>
<text transform="translate(43.66,314.00) scale(0.955,1)" font-size="25.2" stroke="#000" stroke-width="0.35" fill="#000">2</text>
<text transform="translate(43.73,221.70) scale(0.955,1)" font-size="25.2" stroke="#000" stroke-width="0.35" fill="#000">3</text>
<text transform="translate(43.73,129.40) scale(0.955,1)" font-size="25.2" stroke="#000" stroke-width="0.35" fill="#000">4</text>
<text transform="translate(427.58,23.90) scale(0.930,1)" font-size="30.5" stroke="#000" stroke-width="0.35" fill="#000">(</text>
<text transform="translate(436.57,23.90) scale(0.950,1)" font-size="30.5" stroke="#000" stroke-width="0.35" fill="#000">b</text>
<text transform="translate(451.17,23.90) scale(0.930,1)" font-size="30.5" stroke="#000" stroke-width="0.35" fill="#000">)</text>
<path d="M387.9,584.4 L393.4,581.2 L398.9,596.6 L405.6,564.1 L431.0,564.1 L431.0,566.5 L407.6,566.5 L400.8,600 L396.6,600 L391.0,583.9 L388.7,585.7 Z" fill="#000"/>
<text x="409.01" y="589.90" font-size="29.0" font-style="italic" stroke="#000" stroke-width="0.35" fill="#000">s</text>
<text transform="translate(437.47,589.90) scale(0.960,1)" font-size="29.5" stroke="#000" stroke-width="0.35" fill="#000">[</text>
<text transform="translate(444.08,589.90) scale(0.960,1)" font-size="29.5" stroke="#000" stroke-width="0.35" fill="#000">G</text>
<text transform="translate(463.80,589.90) scale(0.960,1)" font-size="29.5" stroke="#000" stroke-width="0.35" fill="#000">e</text>
<text transform="translate(477.86,589.90) scale(0.960,1)" font-size="29.5" stroke="#000" stroke-width="0.35" fill="#000">V</text>
<text transform="translate(495.01,589.90) scale(0.960,1)" font-size="29.5" stroke="#000" stroke-width="0.35" fill="#000">]</text>
<g transform="translate(21.1,0) rotate(-90)">
<text x="-318.01" y="0.00" font-size="31.5" font-style="italic" stroke="#000" stroke-width="0.35" fill="#000">σ</text>
<text x="-295.51" y="0.00" font-size="28.5" stroke="#000" stroke-width="0.35" fill="#000">[</text>
<text transform="translate(-288.40,0.00) scale(0.800,1)" font-size="28.5" stroke="#000" stroke-width="0.35" fill="#000">m</text>
<text transform="translate(-270.80,0.00) scale(1.080,1)" font-size="28.5" stroke="#000" stroke-width="0.35" fill="#000">b</text>
<text x="-252.65" y="0.00" font-size="28.5" stroke="#000" stroke-width="0.35" fill="#000">]</text>
</g>
<rect x="92.5" y="63.5" width="192.1" height="199.0" rx="9.5" ry="9.5" fill="#fff" stroke="#b0b0b0" stroke-width="1"/>
<path d="M104.3,92.35H139.2" stroke="#ff0000" stroke-width="4.9"/>
<path d="M104.3,138.4H139.2" stroke="#000000" stroke-width="4.9" stroke-dasharray="14.6 3.6"/>
<path d="M104.3,184.5H139.2" stroke="#00a800" stroke-width="4.9" stroke-dasharray="7.1 4.55"/>
<path d="M104.3,230.7H139.2" stroke="#800080" stroke-width="4.9" stroke-dasharray="7.1 4.55 13.7 4.55"/>
<g transform="translate(144.36,97.90)" clip-path="url(#c1)"><text transform="scale(1.000,1)" font-size="22.4" stroke="#000" stroke-width="0.35" fill="#000">J</text></g>
<text x="153.64" y="97.90" font-size="22.4" stroke="#000" stroke-width="0.35" fill="#000">/</text>
<g transform="translate(160.43,97.90)" clip-path="url(#c2)"><text transform="scale(1.040,1)" font-size="22.4" font-style="italic" stroke="#000" stroke-width="0.35" fill="#000">ψ</text></g>
<text transform="translate(180.14,97.90) scale(1.060,1)" font-size="22.4" font-style="italic" stroke="#000" stroke-width="0.35" fill="#000">π</text>
<path d="M198.4,92.44999999999999H213.7M208.6,87.14999999999999L214.2,92.44999999999999L208.6,97.74999999999999" fill="none" stroke="#000" stroke-width="1.75" stroke-linejoin="miter"/>
<g transform="translate(144.36,144.50)" clip-path="url(#c3)"><text transform="scale(1.000,1)" font-size="22.4" stroke="#000" stroke-width="0.35" fill="#000">J</text></g>
<text x="153.64" y="144.50" font-size="22.4" stroke="#000" stroke-width="0.35" fill="#000">/</text>
<g transform="translate(160.43,144.50)" clip-path="url(#c4)"><text transform="scale(1.040,1)" font-size="22.4" font-style="italic" stroke="#000" stroke-width="0.35" fill="#000">ψ</text></g>
<text transform="translate(180.14,144.50) scale(1.060,1)" font-size="22.4" font-style="italic" stroke="#000" stroke-width="0.35" fill="#000">π</text>
<path d="M198.4,138.5H213.7M208.6,133.2L214.2,138.5L208.6,143.8" fill="none" stroke="#000" stroke-width="1.75" stroke-linejoin="miter"/>
<g transform="translate(144.36,190.60)" clip-path="url(#c5)"><text transform="scale(1.000,1)" font-size="22.4" stroke="#000" stroke-width="0.35" fill="#000">J</text></g>
<text x="153.64" y="190.60" font-size="22.4" stroke="#000" stroke-width="0.35" fill="#000">/</text>
<g transform="translate(160.43,190.60)" clip-path="url(#c6)"><text transform="scale(1.040,1)" font-size="22.4" font-style="italic" stroke="#000" stroke-width="0.35" fill="#000">ψ</text></g>
<text transform="translate(180.14,190.60) scale(1.060,1)" font-size="22.4" font-style="italic" stroke="#000" stroke-width="0.35" fill="#000">π</text>
<path d="M198.4,184.6H213.7M208.6,179.29999999999998L214.2,184.6L208.6,189.9" fill="none" stroke="#000" stroke-width="1.75" stroke-linejoin="miter"/>
<g transform="translate(144.36,236.70)" clip-path="url(#c7)"><text transform="scale(1.000,1)" font-size="22.4" stroke="#000" stroke-width="0.35" fill="#000">J</text></g>
<text x="153.64" y="236.70" font-size="22.4" stroke="#000" stroke-width="0.35" fill="#000">/</text>
<g transform="translate(160.43,236.70)" clip-path="url(#c8)"><text transform="scale(1.040,1)" font-size="22.4" font-style="italic" stroke="#000" stroke-width="0.35" fill="#000">ψ</text></g>
<text transform="translate(180.14,236.70) scale(1.060,1)" font-size="22.4" font-style="italic" stroke="#000" stroke-width="0.35" fill="#000">π</text>
<path d="M198.4,230.79999999999998H213.7M208.6,225.49999999999997L214.2,230.79999999999998L208.6,236.1" fill="none" stroke="#000" stroke-width="1.75" stroke-linejoin="miter"/>
<g transform="translate(218.56,97.90)" clip-path="url(#c9)"><text transform="scale(1.000,1)" font-size="22.4" stroke="#000" stroke-width="0.35" fill="#000">J</text></g>
<text x="227.84" y="97.90" font-size="22.4" stroke="#000" stroke-width="0.35" fill="#000">/</text>
<g transform="translate(234.63,97.90)" clip-path="url(#c10)"><text transform="scale(1.040,1)" font-size="22.4" font-style="italic" stroke="#000" stroke-width="0.35" fill="#000">ψ</text></g>
<text transform="translate(254.34,97.90) scale(1.060,1)" font-size="22.4" font-style="italic" stroke="#000" stroke-width="0.35" fill="#000">π</text>
<text x="220.04" y="144.50" font-size="22.4" font-style="italic" stroke="#000" stroke-width="0.35" fill="#000">η</text>
<text x="230.37" y="147.50" font-size="16.8" font-style="italic" stroke="#000" stroke-width="0.35" fill="#000">c</text>
<text x="243.60" y="144.50" font-size="22.4" font-style="italic" stroke="#000" stroke-width="0.35" fill="#000">ρ</text>
<text x="218.78" y="190.60" font-size="22.4" font-style="italic" stroke="#000" stroke-width="0.35" fill="#000">D</text>
<text x="237.23" y="190.60" font-size="22.4" font-style="italic" stroke="#000" stroke-width="0.35" fill="#000">D</text>
<text x="251.80" y="186.10" font-size="15.9" stroke="#000" stroke-width="0.35" fill="#000">*</text>
<text x="218.78" y="236.70" font-size="22.4" stroke="#000" stroke-width="0.35" fill="#000">A</text>
<text x="232.31" y="236.70" font-size="22.4" stroke="#000" stroke-width="0.35" fill="#000">l</text>
<text x="236.31" y="236.70" font-size="22.4" stroke="#000" stroke-width="0.35" fill="#000">l</text>
</svg>
</body></html>
